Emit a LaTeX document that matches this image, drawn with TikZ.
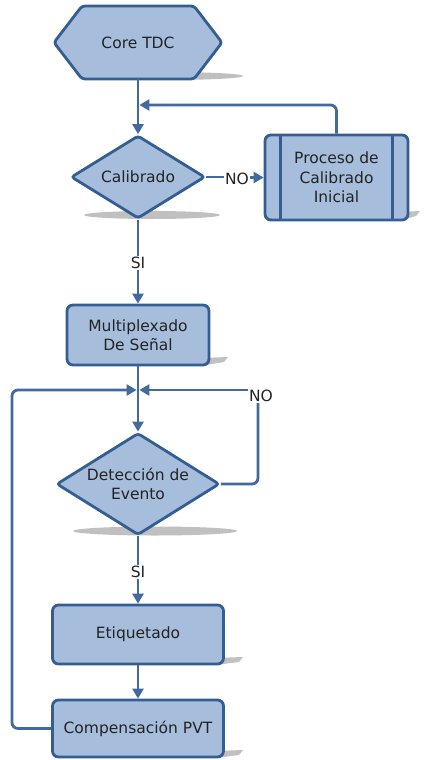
\documentclass[tikz,border=0pt]{standalone}
\usepackage{fontspec}
\setmainfont{DejaVu Sans}
\usetikzlibrary{arrows.meta,shapes.geometric}
\definecolor{boxfill}{RGB}{166,190,220}
\definecolor{boxline}{RGB}{52,93,145}
\definecolor{wirecol}{RGB}{66,106,158}
\definecolor{txt}{RGB}{35,35,35}
\definecolor{shade}{RGB}{192,192,192}

\begin{document}
\begin{tikzpicture}[x=1pt,y=-1pt,
  font=\fontsize{15.5}{19.5}\selectfont, text=txt,
  box/.style={rectangle, draw=boxline, fill=boxfill, line width=2.8pt,
    rounded corners=6pt, align=center, inner sep=0pt},
  decision/.style={diamond, draw=boxline, fill=boxfill, line width=2.8pt,
    rounded corners=3pt, align=center, inner sep=0pt, aspect=1.6},
  hexa/.style={draw=boxline, fill=boxfill, line width=2.8pt, rounded corners=3pt},
  wire/.style={draw=wirecol, line width=2.8pt, rounded corners=6pt},
  flow/.style={wire, -{Triangle[length=10pt,width=11pt]}},
  lbl/.style={inner sep=1pt},
  shadowfill/.style={fill=shade}
]
\useasboundingbox (0,0) rectangle (429,760);

% soft shadows behind the shapes
\fill[shadowfill] (166,76) ellipse [x radius=77pt, y radius=4pt];
\fill[shadowfill] (152,215) ellipse [x radius=68pt, y radius=4pt];
\fill[shadowfill] (155,531) ellipse [x radius=82pt, y radius=4.5pt];
\fill[shadowfill] (400,212) -- (420,211) -- (416,216) -- (400,221) -- cycle;
\fill[shadowfill] (200,358) -- (228,357) -- (224,362) -- (200,366) -- cycle;
\fill[shadowfill] (215,658) -- (243,657) -- (239,662) -- (215,665) -- cycle;
\fill[shadowfill] (215,751) -- (243,750) -- (239,755) -- (215,758) -- cycle;

% start terminal (hexagon)
\path[hexa] (54,42.5) -- (82,6) -- (194,6) -- (222,42.5) -- (194,79) -- (82,79) -- cycle;
\node[rectangle, inner sep=0pt, minimum width=168pt, minimum height=73pt] (core) at (138,42.5) {Core TDC};

% process steps and decisions
\node[decision, minimum width=134pt, minimum height=83pt] (cal) at (138,177) {Calibrado};
\node[box, minimum width=143pt, minimum height=85pt] (proc) at (336.5,177.5) {Proceso de\\Calibrado\\Inicial};
\draw[boxline, line width=2.8pt] ([xshift=17pt]proc.north west) -- ([xshift=17pt]proc.south west);
\draw[boxline, line width=2.8pt] ([xshift=-17pt]proc.north east) -- ([xshift=-17pt]proc.south east);
\node[box, minimum width=142pt, minimum height=60pt] (mux) at (138,335) {Multiplexado\\De Señal};
\node[decision, minimum width=163pt, minimum height=102pt] (det) at (138,484) {Detección de\\Evento};
\node[box, minimum width=171pt, minimum height=59pt] (etq) at (138,634.5) {Etiquetado};
\node[box, minimum width=171pt, minimum height=57pt] (comp) at (138,728.5) {Compensación PVT};

% connector labels
\node[lbl] (no1) at (237,179) {NO};
\node[lbl] (si1) at (138,263) {SI};
\node[lbl] (no2) at (261,396) {NO};
\node[lbl] (si2) at (138,572) {SI};

% junction points
\coordinate (j1) at (138,105);
\coordinate (j2) at (138,390);
\coordinate (lc) at (12,390);

% connectors
\draw[flow] (core.south) -- (cal.north);
\draw[flow, shorten >=1.4pt] (proc.north) |- (j1);
\draw[wire] (cal.east) -- (cal.east -| no1.west);
\draw[flow] (no1.east |- proc.west) -- (proc.west);
\draw[wire] (cal.south) -- (si1.north);
\draw[flow] (si1.south) -- (mux.north);
\draw[flow] (mux.south) -- (det.north);
\draw[wire] (det.east) -| ([xshift=-3pt]no2.south);
\draw[flow, shorten >=1.4pt] (no2.west |- j2) -- (j2);
\draw[flow, shorten >=1.4pt] (comp.west) -| (lc) -- (j2);
\draw[wire] (det.south) -- (si2.north);
\draw[flow] (si2.south) -- (etq.north);
\draw[flow] (etq.south) -- (comp.north);
\end{tikzpicture}
\end{document}
